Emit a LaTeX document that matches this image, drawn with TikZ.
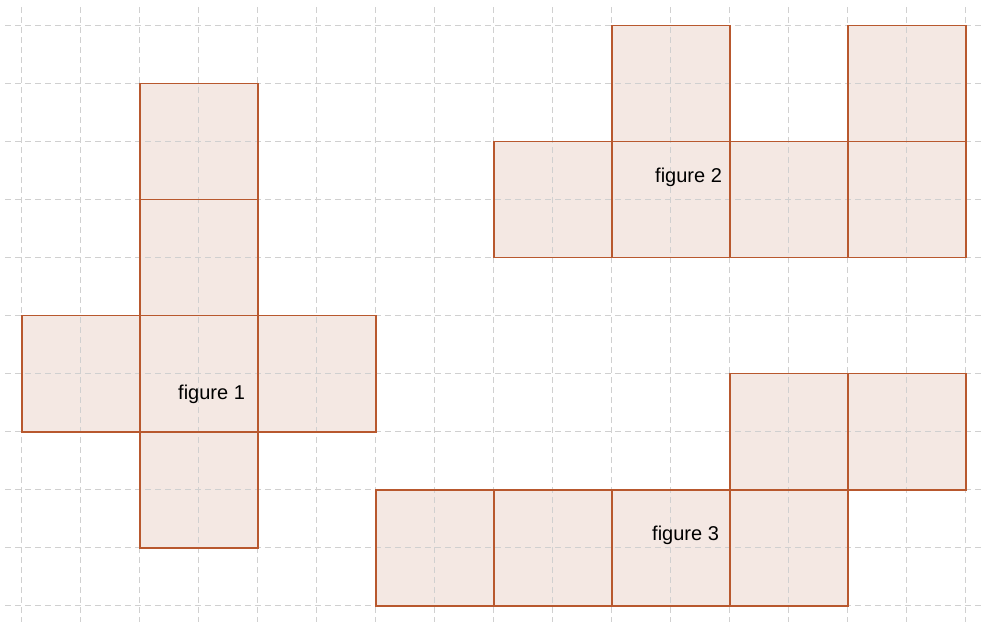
\documentclass[tikz,border=0pt]{standalone}
\usepackage{fontspec}
\setmainfont{Liberation Sans}
\definecolor{edgebrown}{RGB}{184,88,46}
\definecolor{cellfill}{RGB}{244,232,227}
\definecolor{gridgray}{RGB}{208,208,208}
\begin{document}
\begin{tikzpicture}[x=59pt,y=-58pt,
  gridline/.style={draw=gridgray,line width=1.3pt,dash pattern=on 6pt off 4pt},
  cellfill/.style={fill=cellfill},
  celledge/.style={draw=edgebrown,line width=1.6pt},
  lbl/.style={anchor=base west,inner sep=0pt,font=\fontsize{20}{24}\selectfont}]
\useasboundingbox (-0.368,-0.443) rectangle (16.293,10.281);
\def\cells{2/1,2/3,0/5,2/5,4/5,2/7,10/0,14/0,8/2,10/2,12/2,14/2,12/6,14/6,6/8,8/8,10/8,12/8}
% fills
\foreach \p/\q in \cells
  \fill[cellfill] (\p,\q) rectangle ++(2,2);
% grid
\foreach \i in {0,...,16}
  \draw[gridline] (\i,-0.32) -- (\i,10.35);
\foreach \j in {0,...,10}
  \draw[gridline] (-0.28,\j) -- (16.35,\j);
% edges
\foreach \p/\q in \cells
  \draw[celledge] (\p,\q) rectangle ++(2,2);
\node[lbl] (f1) at (2.649,6.453) {figure 1};
\node[lbl] (f2) at (10.734,2.695) {figure 2};
\node[lbl] (f3) at (10.683,8.884) {figure 3};
\end{tikzpicture}
\end{document}
